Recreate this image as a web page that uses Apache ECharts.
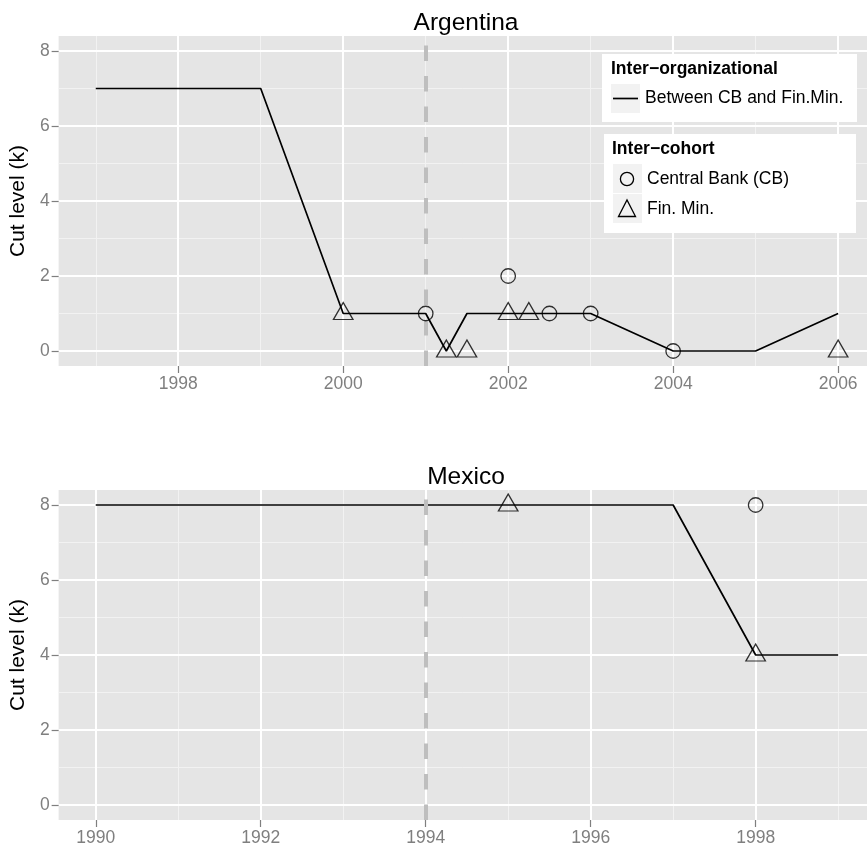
<!DOCTYPE html>
<html>
<head>
<meta charset="utf-8">
<script src="https://cdn.jsdelivr.net/npm/echarts@6/dist/echarts.min.js"></script>
<style>
html,body{margin:0;padding:0;background:#fff;}
#chart{width:867px;height:853px;}
</style>
</head>
<body>
<div id="chart"></div>
<script>
// ---- Data ----
const argLineX = [1997, 1999, 2000, 2001, 2001.25, 2001.5, 2003, 2004, 2005, 2006];
const argLineY = [7, 7, 1, 1, 0, 1, 1, 0, 0, 1];
const argCBX = [2001, 2002, 2002.5, 2003, 2004];
const argCBY = [1, 2, 1, 1, 0];
const argFMX = [2000, 2001.25, 2001.5, 2002, 2002.25, 2006];
const argFMY = [1, 0, 0, 1, 1, 0];
const argEvent = 2001;

const mexLineX = [1990, 1997, 1998, 1999];
const mexLineY = [8, 8, 4, 4];
const mexCBX = [1998];
const mexCBY = [8];
const mexFMX = [1995, 1998];
const mexFMY = [8, 4];
const mexEvent = 1994;

const argXTicks = [1998, 2000, 2002, 2004, 2006];
const argXMinor = [1997, 1999, 2001, 2003, 2005];
const mexXTicks = [1990, 1992, 1994, 1996, 1998];
const mexXMinor = [1991, 1993, 1995, 1997, 1999];
const yTicks = [0, 2, 4, 6, 8];
const yMinor = [1, 3, 5, 7];

const panelTitles = ['Argentina', 'Mexico'];
const yTitle = 'Cut level (k)';
const legendTitle1 = 'Inter\u2212organizational';
const legendLabel1 = 'Between CB and Fin.Min.';
const legendTitle2 = 'Inter\u2212cohort';
const legendLabels2 = ['Central Bank (CB)', 'Fin. Min.'];

// ---- Helpers ----
const FONT = '"Liberation Sans", Arial, Helvetica, sans-serif';
const zip = (xs, ys) => xs.map((x, i) => [x, ys[i]]);
const plain = v => String(v);

function majorX(grid, min, max, ticks) {
  return {
    type: 'value', gridIndex: grid, min: min, max: max, z: 2,
    axisLine: { show: false, onZero: false },
    axisTick: { show: true, inside: false, length: 7, customValues: ticks, lineStyle: { color: '#7f7f7f', width: 1.2 } },
    axisLabel: { show: true, customValues: ticks, formatter: plain, margin: 9, color: '#7f7f7f', fontSize: 17.5, fontFamily: FONT },
    splitLine: { show: true, lineStyle: { color: '#ffffff', width: 2 } }
  };
}
function minorX(grid, min, max, ticks) {
  return {
    type: 'value', gridIndex: grid, min: min, max: max, z: 1,
    axisLine: { show: false, onZero: false },
    axisTick: { show: false, customValues: ticks },
    axisLabel: { show: false, customValues: ticks },
    splitLine: { show: true, lineStyle: { color: '#f2f2f2', width: 1 } }
  };
}
function majorY(grid) {
  return {
    type: 'value', gridIndex: grid, min: -0.4, max: 8.4, z: 2,
    name: yTitle, nameLocation: 'middle', nameGap: 23, nameRotate: 90,
    nameTextStyle: { color: '#000', fontSize: 21, fontFamily: FONT },
    axisLine: { show: false, onZero: false },
    axisTick: { show: true, inside: false, length: 7, customValues: yTicks, lineStyle: { color: '#7f7f7f', width: 1.2 } },
    axisLabel: { show: true, customValues: yTicks, formatter: plain, margin: 9, color: '#7f7f7f', fontSize: 17.5, fontFamily: FONT },
    splitLine: { show: true, lineStyle: { color: '#ffffff', width: 2 } }
  };
}
function minorY(grid) {
  return {
    type: 'value', gridIndex: grid, min: -0.4, max: 8.4, z: 1,
    axisLine: { show: false, onZero: false },
    axisTick: { show: false, customValues: yMinor },
    axisLabel: { show: false, customValues: yMinor },
    splitLine: { show: true, lineStyle: { color: '#f2f2f2', width: 1 } }
  };
}

function panelSeries(xi, yi, lx, ly, cx, cy, fx, fy, ev) {
  return [
    {
      type: 'line', xAxisIndex: xi, yAxisIndex: yi, data: [], z: 3, silent: true,
      markLine: {
        silent: true, symbol: 'none', label: { show: false },
        lineStyle: { color: '#bebebe', width: 4, type: [15.5, 15], cap: 'butt' },
        emphasis: { disabled: true },
        data: [{ xAxis: ev }]
      }
    },
    {
      type: 'line', xAxisIndex: xi, yAxisIndex: yi, data: zip(lx, ly), z: 4,
      symbol: 'none', silent: true,
      lineStyle: { color: '#000', width: 1.7 }
    },
    {
      name: legendLabels2[0], type: 'scatter', xAxisIndex: xi, yAxisIndex: yi, data: zip(cx, cy), z: 5,
      symbol: 'circle', symbolSize: 14.5, silent: true,
      itemStyle: { color: 'rgba(0,0,0,0)', borderColor: '#000', borderWidth: 1.3 }
    },
    {
      name: legendLabels2[1], type: 'scatter', xAxisIndex: xi, yAxisIndex: yi, data: zip(fx, fy), z: 5,
      symbol: 'triangle', symbolSize: [19.5, 17], symbolOffset: [0, -2.5], silent: true,
      itemStyle: { color: 'rgba(0,0,0,0)', borderColor: '#000', borderWidth: 1.3 }
    }
  ];
}

const chart = echarts.init(document.getElementById('chart'), null, { renderer: 'canvas' });

const option = {
  animation: false,
  backgroundColor: '#ffffff',
  title: [
    { text: panelTitles[0], left: 461, top: 6, textAlign: 'center',
      textStyle: { color: '#000', fontSize: 24.5, fontWeight: 'normal', fontFamily: FONT } },
    { text: panelTitles[1], left: 461, top: 460, textAlign: 'center',
      textStyle: { color: '#000', fontSize: 24.5, fontWeight: 'normal', fontFamily: FONT } }
  ],
  grid: [
    { left: 57, right: 0, top: 36, height: 330, show: true, backgroundColor: '#e5e5e5', borderWidth: 0, z: 0 },
    { left: 57, right: 0, top: 490, height: 330, show: true, backgroundColor: '#e5e5e5', borderWidth: 0, z: 0 }
  ],
  xAxis: [
    majorX(0, 1996.55, 2006.35, argXTicks),
    minorX(0, 1996.55, 2006.35, argXMinor),
    majorX(1, 1989.55, 1999.35, mexXTicks),
    minorX(1, 1989.55, 1999.35, mexXMinor)
  ],
  yAxis: [majorY(0), minorY(0), majorY(1), minorY(1)],
  series: [].concat(
    panelSeries(0, 0, argLineX, argLineY, argCBX, argCBY, argFMX, argFMY, argEvent),
    panelSeries(2, 2, mexLineX, mexLineY, mexCBX, mexCBY, mexFMX, mexFMY, mexEvent)
  ),
  graphic: [
    { type: 'rect', shape: { x: 602, y: 54, width: 255, height: 68 }, style: { fill: '#ffffff' }, z: 10 },
    { type: 'text', x: 611, y: 69, style: { text: legendTitle1, fill: '#000', font: 'bold 17.5px ' + FONT, verticalAlign: 'middle' }, z: 11 },
    { type: 'rect', shape: { x: 611, y: 84, width: 29, height: 29 }, style: { fill: '#f2f2f2' }, z: 11 },
    { type: 'line', shape: { x1: 613, y1: 98.5, x2: 638, y2: 98.5 }, style: { stroke: '#000', lineWidth: 1.7 }, z: 12 },
    { type: 'text', x: 645, y: 98.5, style: { text: legendLabel1, fill: '#000', font: '17.5px ' + FONT, verticalAlign: 'middle' }, z: 11 },

    { type: 'rect', shape: { x: 604, y: 134, width: 252, height: 99 }, style: { fill: '#ffffff' }, z: 10 },
    { type: 'text', x: 612, y: 149.5, style: { text: legendTitle2, fill: '#000', font: 'bold 17.5px ' + FONT, verticalAlign: 'middle' }, z: 11 },
    { type: 'rect', shape: { x: 613, y: 164, width: 29, height: 29 }, style: { fill: '#f2f2f2' }, z: 11 },
    { type: 'rect', shape: { x: 613, y: 194, width: 29, height: 29 }, style: { fill: '#f2f2f2' }, z: 11 },
    { type: 'circle', shape: { cx: 627, cy: 179, r: 6.6 }, style: { fill: 'none', stroke: '#000', lineWidth: 1.3 }, z: 12 },
    { type: 'polygon', shape: { points: [[618.5, 216.5], [627, 200], [635.5, 216.5]] }, style: { fill: 'none', stroke: '#000', lineWidth: 1.3 }, z: 12 },
    { type: 'text', x: 647, y: 179, style: { text: legendLabels2[0], fill: '#000', font: '17.5px ' + FONT, verticalAlign: 'middle' }, z: 11 },
    { type: 'text', x: 647, y: 209, style: { text: legendLabels2[1], fill: '#000', font: '17.5px ' + FONT, verticalAlign: 'middle' }, z: 11 }
  ]
};

chart.setOption(option);
</script>
</body>
</html>
